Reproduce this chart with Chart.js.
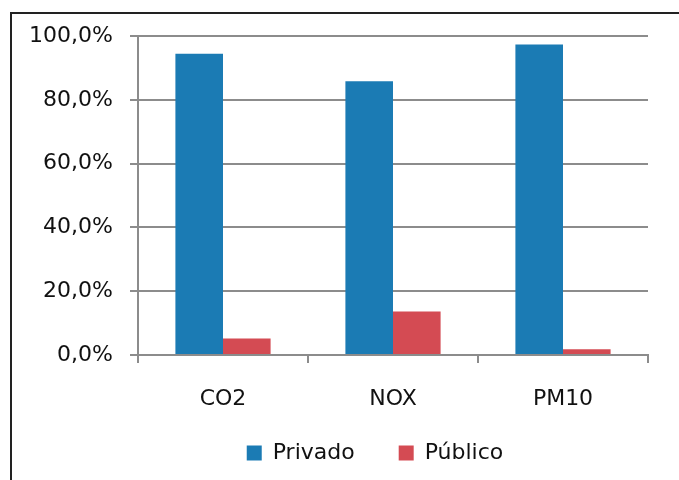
<!DOCTYPE html>
<html>
<head>
<meta charset="utf-8">
<script src="https://cdn.jsdelivr.net/npm/chart.js@4"></script>
<style>
  html, body { margin: 0; padding: 0; background: #fff; }
  #wrap { position: relative; width: 679px; height: 480px; }
  #frame { position: absolute; left: 10px; top: 12px; right: 0; bottom: 0;
           border-left: 2px solid #222; border-top: 2px solid #222; pointer-events: none; }
</style>
</head>
<body>
<div id="wrap">
  <canvas id="chart" width="679" height="480"></canvas>
  <div id="frame"></div>
</div>
<script>
// dados
const poluentes = ['CO2', 'NOX', 'PM10'];
const privado = [94.4, 85.8, 97.3];
const publico = [5.2, 13.6, 1.8];

const cinza = '#8c8c8c';
const fonte = 'DejaVu Sans';

// a legenda do original não está centrada no canvas: desloca-a
const deslocaLegenda = {
  id: 'deslocaLegenda',
  afterLayout(chart) {
    const lg = chart.legend;
    lg.left += 51;
    lg.right += 51;
    lg.top -= 23;
    lg.bottom -= 23;
  },
};

new Chart(document.getElementById('chart'), {
  type: 'bar',
  data: {
    labels: poluentes,
    datasets: [
      { label: 'Privado', data: privado, backgroundColor: '#1b7bb4' },
      { label: 'Público', data: publico, backgroundColor: '#d44b53' },
    ],
  },
  plugins: [deslocaLegenda],
  options: {
    responsive: false,
    animation: false,
    categoryPercentage: 0.56,
    barPercentage: 1,
    layout: { padding: { left: 0, right: 31, top: 36, bottom: -17 } },
    plugins: {
      tooltip: { enabled: false },
      legend: {
        position: 'bottom',
        labels: {
          boxWidth: 15,
          boxHeight: 15,
          padding: 44,
          color: '#111',
          font: { family: fonte, size: 22 },
        },
      },
    },
    scales: {
      x: {
        afterFit: (s) => { s.height = 66; },
        grid: {
          offset: true,
          drawOnChartArea: true,
          color: (c) => (c.index === 3 ? cinza : 'transparent'),
          tickColor: cinza,
          tickLength: 8,
          lineWidth: 2,
        },
        border: { color: cinza, width: 2 },
        ticks: { color: '#111', padding: 23, font: { family: fonte, size: 22 } },
      },
      y: {
        min: 0,
        max: 100,
        afterFit: (s) => { s.width = 138; },
        grid: { color: cinza, tickColor: cinza, tickLength: 8, lineWidth: 2 },
        border: { color: cinza, width: 2 },
        ticks: {
          stepSize: 20,
          padding: 17,
          color: '#111',
          font: { family: fonte, size: 22 },
          callback: (v) => v.toFixed(1).replace('.', ',') + '%',
        },
      },
    },
  },
});
</script>
</body>
</html>
